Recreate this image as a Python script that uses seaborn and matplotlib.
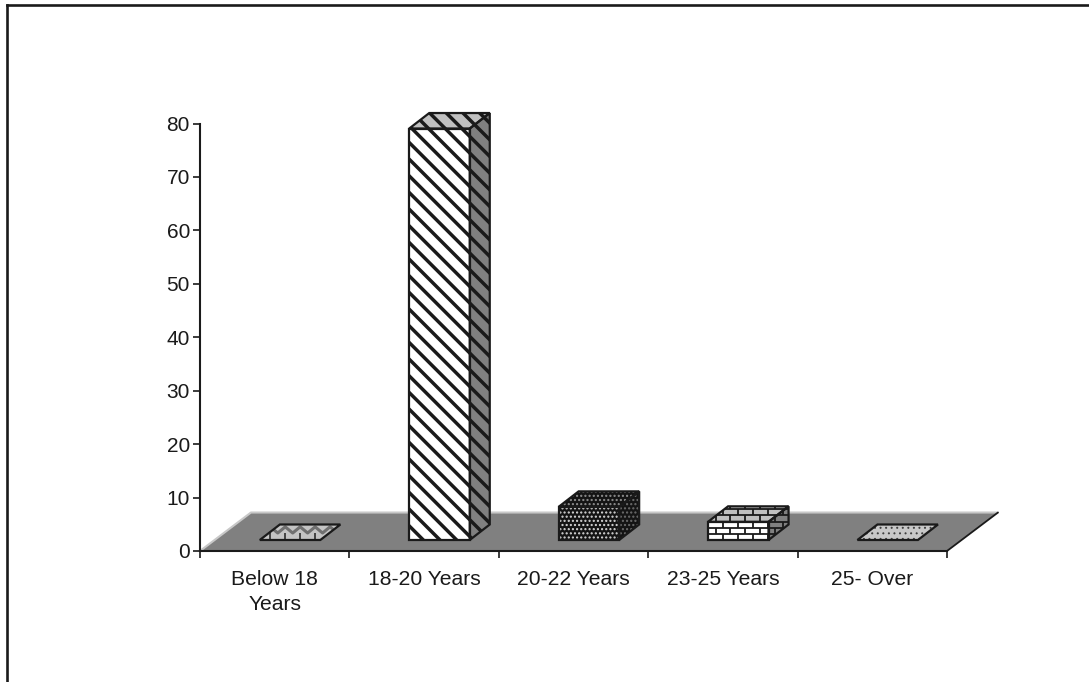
import numpy as np
import pandas as pd
import matplotlib
matplotlib.use("Agg")
import matplotlib.pyplot as plt
from matplotlib.collections import LineCollection
from matplotlib.lines import Line2D
from matplotlib.patches import Polygon
import seaborn as sns

# Respondents by age group
age_groups = ["Below 18\nYears", "18-20 Years", "20-22 Years", "23-25 Years", "25- Over"]
shares = [0, 77, 6.2, 3.4, 0]
y_ticks = [0, 10, 20, 30, 40, 50, 60, 70, 80]

# Pseudo-3D layout, in data units
BAR_WIDTH = 0.405
BAR_SHIFT_X = 0.103
BAR_BASE_Y = 2.06
DEPTH_X = 0.134
DEPTH_Y = 2.9
FLOOR_X = 0.341
FLOOR_Y = 7.2

GREY = "#808080"
LIGHT = "#c0c0c0"

# Per-bar surface styles: front, side, top fill, hatch, hatch colours per face, hatch width
bar_styles = [
    dict(front=LIGHT, side=GREY, top="#c4c4c4", hatch="", ink="k", lw=1.0),
    dict(front="white", side=GREY, top=LIGHT, hatch="\\\\", ink="k", lw=2.5),
    dict(front="#141414", side="#141414", top="#141414", hatch="....", ink="#d8d8d8",
         side_ink="#6c6c6c", top_ink="#909090", lw=1.0),
    dict(front="white", side=GREY, top=LIGHT, hatch="", ink="k", lw=1.0),
    dict(front=LIGHT, side=GREY, top="#c8c8c8", hatch="...", ink="#404040", lw=0.7),
]

sns.set_theme(style="white")
plt.rcParams["font.family"] = ["Liberation Sans", "DejaVu Sans"]

fig = plt.figure(figsize=(10.89, 6.82), dpi=100)
ax = fig.add_axes([200 / 1089, (682 - 551) / 682, 747 / 1089, 427.5 / 682])

df = pd.DataFrame({"age": age_groups, "share": shares})
sns.barplot(data=df, x="age", y="share", order=age_groups, color="white", saturation=1,
            width=BAR_WIDTH, bottom=BAR_BASE_Y, linewidth=0, ax=ax, zorder=3)

x_lo, x_hi = -0.5 - BAR_SHIFT_X, len(age_groups) - 0.5 - BAR_SHIFT_X
ax.set_xlim(x_lo, x_hi)
ax.set_ylim(0, 80)
ax.set_xlabel("")
ax.set_ylabel("")


def face(verts, fill, hatch, ink, hatch_lw):
    """Fill one bar surface and stroke its outline."""
    body = Polygon(verts, closed=True, facecolor=fill, edgecolor=ink, hatch=hatch,
                   linewidth=0, clip_on=False, zorder=3)
    body.set_hatch_linewidth(hatch_lw)
    ax.add_patch(body)
    ax.add_patch(Polygon(verts, closed=True, fill=False, edgecolor="k", linewidth=1.6,
                         clip_on=False, zorder=5, joinstyle="miter"))
    return body


def clipped_lines(segments, clip, color="k", lw=1.3):
    lines = LineCollection(segments, colors=color, linewidths=lw, zorder=4)
    ax.add_collection(lines, autolim=False)
    lines.set_clip_path(clip)


def brick_segments(x0, x1, y0, y1):
    """Running-bond courses covering the given rectangle."""
    row_h, brick_w = 1.15, 0.1
    segs = []
    for k, y in enumerate(np.arange(y0, y1, row_h)):
        segs.append([(x0, y), (x1, y)])
        for x in np.arange(x0 + (k % 2) * brick_w / 2, x1, brick_w):
            segs.append([(x, y), (x, y + row_h)])
    return segs


# Sloped floor behind the bars
floor = [(x_lo, 0), (x_hi, 0), (x_hi + FLOOR_X, FLOOR_Y), (x_lo + FLOOR_X, FLOOR_Y)]
ax.add_patch(Polygon(floor, closed=True, facecolor=GREY, edgecolor="none", clip_on=False, zorder=1))
ax.add_line(Line2D([x_lo, x_lo + FLOOR_X, x_hi + FLOOR_X], [0, FLOOR_Y, FLOOR_Y], color="#c8c8c8",
                   lw=1.5, clip_on=False, zorder=1.5))
ax.add_line(Line2D([x_hi, x_hi + FLOOR_X], [0, FLOOR_Y], color="k", lw=1.3, clip_on=False, zorder=1.5))

for idx, (bar, value, st) in enumerate(zip(list(ax.patches), shares, bar_styles)):
    x0, x1 = bar.get_x(), bar.get_x() + bar.get_width()
    y0, y1 = BAR_BASE_Y, BAR_BASE_Y + value

    bar.set_facecolor(st["front"])
    bar.set_edgecolor(st["ink"])
    bar.set_hatch(st["hatch"])
    bar.set_hatch_linewidth(st["lw"])
    bar.set_linewidth(0)

    front = [(x0, y0), (x1, y0), (x1, y1), (x0, y1)]
    top = [(x0, y1), (x1, y1), (x1 + DEPTH_X, y1 + DEPTH_Y), (x0 + DEPTH_X, y1 + DEPTH_Y)]
    side = [(x1, y0), (x1 + DEPTH_X, y0 + DEPTH_Y), (x1 + DEPTH_X, y1 + DEPTH_Y), (x1, y1)]

    top_face = face(top, st["top"], st["hatch"], st.get("top_ink", st["ink"]), st["lw"])
    if value > 0:
        ax.add_patch(Polygon(front, closed=True, fill=False, edgecolor="k", linewidth=1.6,
                             clip_on=False, zorder=5))
        side_face = face(side, st["side"], st["hatch"], st.get("side_ink", st["ink"]), st["lw"])

    if idx == 3:
        # Brick courses on every visible surface
        segs = brick_segments(x0, x1 + DEPTH_X, y0, y1 + DEPTH_Y + 1)
        clipped_lines(segs, bar)
        clipped_lines(segs, top_face)
        clipped_lines(segs, side_face)
    if idx == 0:
        # Serrated weave on the flat marker
        xs = np.arange(x0 + 0.02, x1 + DEPTH_X, 0.05)
        zig = np.column_stack([xs, y1 + DEPTH_Y * (0.45 + 0.4 * (np.arange(xs.size) % 2))])
        clipped_lines([zig], top_face, color="#707070", lw=2.2)
        ticks = [[(x, y1), (x, y1 + DEPTH_Y * 0.45)] for x in xs[1::2]]
        clipped_lines(ticks, top_face, color="#202020", lw=1.1)

# Axes and ticks
sns.despine(ax=ax, top=True, right=True)
for name in ("left", "bottom"):
    ax.spines[name].set_color("k")
    ax.spines[name].set_linewidth(1.5)
    ax.spines[name].set_zorder(6)

edges = np.arange(len(age_groups) + 1) - 0.5 - BAR_SHIFT_X
ax.set_xticks(edges)
ax.set_xticklabels([])
ax.set_xticks(np.arange(len(age_groups)) - BAR_SHIFT_X, minor=True)
ax.set_xticklabels(age_groups, minor=True, linespacing=1.42)
ax.set_yticks(y_ticks)
ax.tick_params(axis="x", which="major", length=5.2, width=1.2, color="k", bottom=True)
ax.tick_params(axis="x", which="minor", length=0, pad=13.5, labelsize=15.2, labelcolor="k")
ax.tick_params(axis="y", which="major", length=5.2, width=1.2, color="k", left=True, pad=2,
               labelsize=15, labelcolor="k")

# Chart-area frame, open at the right and bottom
fig.add_artist(Line2D([7 / 1089, 7 / 1089], [0, 1 - 5 / 682], color="k", lw=1.9,
                      transform=fig.transFigure, solid_capstyle="projecting"))
fig.add_artist(Line2D([7 / 1089, 1], [1 - 5 / 682, 1 - 5 / 682], color="k", lw=1.9,
                      transform=fig.transFigure, solid_capstyle="projecting"))

fig.savefig("out.png", dpi=100)
